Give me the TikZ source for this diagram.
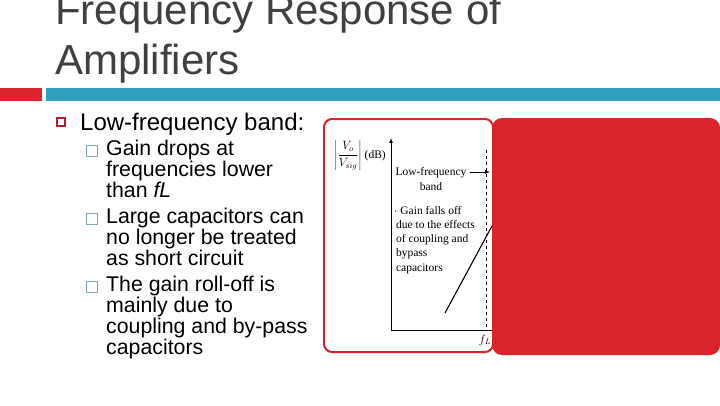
\documentclass[tikz,border=0pt]{standalone}
\usepackage{fontspec}
\setmainfont{Liberation Sans}
\newfontfamily\gserif{Liberation Serif}
\definecolor{myred}{HTML}{D9232D}
\definecolor{teal2}{HTML}{31A0BC}
\definecolor{bul}{HTML}{7FA8B8}
\begin{document}
\begin{tikzpicture}[x=1pt,y=-1pt,
  sub/.style={anchor=north west,inner sep=0pt,font=\fontsize{21.3}{20.8}\selectfont,align=left},
  sq/.style={draw=bul,line width=0.8pt,minimum size=11pt,inner sep=0pt},
  gt/.style={font=\gserif\fontsize{11.5}{14.5}\selectfont,inner sep=0pt,align=left}]
\useasboundingbox (0,0) rectangle (720,405);
\fill[white] (0,0) rectangle (720,405);
\node[anchor=base west,inner sep=0pt,font=\fontsize{42}{48}\selectfont,text=black!75] (t1) at (55,24) {Frequency Response of};
\node[anchor=base west,inner sep=0pt,font=\fontsize{42}{48}\selectfont,text=black!75] (t2) at (55,74) {Amplifiers};
\fill[myred] (0,88) rectangle (42,101);
\fill[teal2] (46,88) rectangle (720,101);
\node[draw=myred!80!black,line width=1.3pt,minimum size=8pt,inner sep=0pt] (b0) at (61,122) {};
\node[anchor=base west,inner sep=0pt,font=\fontsize{24}{28}\selectfont] (l0) at (80,130) {Low-frequency band:};
\node[sq] (s1) at (92,151) {};
\node[sub] (t1b) at (106,140) {Gain drops at\\frequencies lower\\than \textit{fL}};
\node[sq] (s2) at (92,219) {};
\node[sub] (t2b) at (106,208) {Large capacitors can\\no longer be treated\\as short circuit};
\node[sq] (s3) at (92,287) {};
\node[sub] (t3b) at (106,276) {The gain roll-off is\\mainly due to\\coupling and by-pass\\capacitors};
\fill[myred,rounded corners=10pt] (492,118) rectangle (720,355);
\draw[myred,line width=2pt,rounded corners=8pt,fill=white] (324,119) rectangle (493,352);
% graph
\coordinate (o) at (391,330);
\draw[line width=0.7pt,-latex] (o) -- (391,138);
\draw[line width=0.7pt] (o) -- (492,330);
\draw[dashed,line width=0.5pt] (486,150) -- (486,330);
\node[gt] (yl) at (360,155) {$\displaystyle\left|\frac{V_o}{V_{sig}}\right|$ (dB)};
\node[gt,align=center] (lf) at (431,179) {Low-frequency\\band};
\draw[-latex,line width=0.7pt] (470,172) -- (490,172);
\node[gt,anchor=north west,font=\gserif\fontsize{11.5}{14.2}\selectfont] (gf) at (394,206) {$\cdot$ Gain falls off\\ \,due to the effects\\ \,of coupling and\\ \,bypass\\ \,capacitors};
\draw[line width=1.1pt] (445,313) -- (492,226);
\node[gt] (fl) at (485,340) {$f_L$};
\end{tikzpicture}
\end{document}
